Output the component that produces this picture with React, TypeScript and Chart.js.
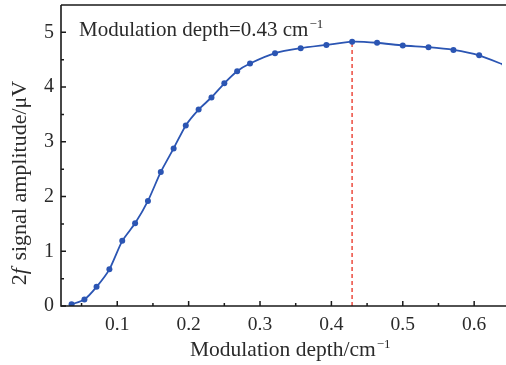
import React, { useEffect, useRef } from "react";
import { Chart, registerables } from "chart.js";

Chart.register(...registerables);

// Data (modulation depth in cm^-1, 2f signal amplitude in µV)
const modulationDepth = [
  0.036, 0.054, 0.071, 0.089, 0.107, 0.125, 0.143, 0.161, 0.179, 0.196,
  0.214, 0.232, 0.25, 0.268, 0.286, 0.321, 0.357, 0.393, 0.429, 0.464,
  0.5, 0.536, 0.571, 0.607, 0.643,
];
const signalAmplitude = [
  0.03, 0.12, 0.35, 0.67, 1.19, 1.51, 1.92, 2.45, 2.88, 3.3,
  3.59, 3.81, 4.07, 4.29, 4.43, 4.62, 4.71, 4.77, 4.83, 4.81,
  4.76, 4.73, 4.68, 4.58, 4.4,
];
const xTicks = [0.1, 0.2, 0.3, 0.4, 0.5, 0.6];
const xMinorTicks = [0.05, 0.15, 0.25, 0.35, 0.45, 0.55, 0.65];
const yTicks = [0, 1, 2, 3, 4, 5];
const yMinorTicks = [0.5, 1.5, 2.5, 3.5, 4.5];
const peakDepth = 0.429;
const peakAmplitude = 4.83;
const annotationMain = "Modulation depth=0.43 cm";
const xTitleMain = "Modulation depth/cm";
const superscript = "\u22121";
const yTitleLead = "2";
const yTitleItalic = "f";
const yTitleRest = " signal amplitude/\u03bcV";

const FONT = "'Liberation Serif', 'Times New Roman', serif";
const TEXT = "#2a2a2a";
const BLUE = "#2b55b3";
const RED = "#ec4b3f";

const decorPlugin = {
  id: "decor",
  afterDraw(chart: any) {
    const ctx = chart.ctx as CanvasRenderingContext2D;
    const { left, top, bottom } = chart.chartArea;
    const xs = chart.scales.x;
    const ys = chart.scales.y;
    ctx.save();
    ctx.strokeStyle = "#1a1a1a";
    ctx.lineWidth = 1.6;
    // axes + top frame
    ctx.beginPath();
    ctx.moveTo(left, top);
    ctx.lineTo(left, bottom);
    ctx.lineTo(chart.width, bottom);
    ctx.moveTo(left, top);
    ctx.lineTo(chart.width, top);
    ctx.stroke();
    // ticks (inward)
    ctx.lineWidth = 1.5;
    ctx.beginPath();
    xTicks.forEach((v) => {
      const p = xs.getPixelForValue(v);
      if (p >= left && p <= chart.width) {
        ctx.moveTo(p, bottom);
        ctx.lineTo(p, bottom - 5);
      }
    });
    xMinorTicks.forEach((v) => {
      const p = xs.getPixelForValue(v);
      if (p >= left && p <= chart.width) {
        ctx.moveTo(p, bottom);
        ctx.lineTo(p, bottom - 3);
      }
    });
    yTicks.forEach((v) => {
      const p = ys.getPixelForValue(v);
      ctx.moveTo(left, p);
      ctx.lineTo(left + 5, p);
    });
    yMinorTicks.forEach((v) => {
      const p = ys.getPixelForValue(v);
      ctx.moveTo(left, p);
      ctx.lineTo(left + 3, p);
    });
    ctx.stroke();

    ctx.fillStyle = TEXT;
    ctx.textBaseline = "alphabetic";
    ctx.textAlign = "left";
    // annotation
    ctx.font = `21px ${FONT}`;
    const ax = left + 18;
    const ay = top + 31;
    ctx.fillText(annotationMain, ax, ay);
    const aw = ctx.measureText(annotationMain).width;
    ctx.font = `13px ${FONT}`;
    ctx.fillText(superscript, ax + aw + 1, ay - 8);

    // x title
    const tx = left + 129;
    const ty = bottom + 50;
    ctx.font = `21.5px ${FONT}`;
    const xw = ctx.measureText(xTitleMain).width;
    ctx.fillText(xTitleMain, tx, ty);
    ctx.font = `13px ${FONT}`;
    ctx.fillText(superscript, tx + xw + 1, ty - 8);

    // y title rotated
    ctx.save();
    ctx.translate(26, 183);
    ctx.rotate(-Math.PI / 2);
    ctx.font = `22px ${FONT}`;
    const w1 = ctx.measureText(yTitleLead).width;
    ctx.font = `italic 22px ${FONT}`;
    const w2 = ctx.measureText(yTitleItalic).width;
    ctx.font = `22px ${FONT}`;
    const w3 = ctx.measureText(yTitleRest).width;
    const tot = w1 + w2 + 2 + w3;
    let px = -tot / 2;
    ctx.fillText(yTitleLead, px, 0);
    px += w1;
    ctx.font = `italic 22px ${FONT}`;
    ctx.fillText(yTitleItalic, px, 0);
    px += w2 + 2;
    ctx.font = `22px ${FONT}`;
    ctx.fillText(yTitleRest, px, 0);
    ctx.restore();

    ctx.restore();
  },
};

export default function App() {
  const ref = useRef<HTMLCanvasElement | null>(null);
  useEffect(() => {
    if (!ref.current) return;
    const chart = new Chart(ref.current, {
      type: "line",
      data: {
        datasets: [
          {
            data: modulationDepth.map((x, i) => ({ x, y: signalAmplitude[i] })),
            borderColor: BLUE,
            backgroundColor: BLUE,
            pointBackgroundColor: BLUE,
            pointBorderColor: BLUE,
            pointRadius: 3,
            pointBorderWidth: 0,
            borderWidth: 1.8,
            tension: 0.2,
            order: 0,
          },
          {
            data: [
              { x: peakDepth, y: 0 },
              { x: peakDepth, y: peakAmplitude },
            ],
            borderColor: RED,
            borderWidth: 1.5,
            borderDash: [4, 3],
            pointRadius: 0,
            order: 1,
          },
        ],
      },
      options: {
        responsive: false,
        animation: false,
        devicePixelRatio: 1,
        layout: { padding: { top: 5, right: 0, left: 0, bottom: 0 } },
        plugins: { legend: { display: false }, tooltip: { enabled: false } },
        scales: {
          x: {
            type: "linear",
            min: 0.0212,
            max: 0.639,
            grid: { display: false, drawTicks: false },
            border: { display: false },
            ticks: {
              font: { family: FONT, size: 19.5 },
              color: TEXT,
              padding: 7,
              maxRotation: 0,
              callback: (v: any) => String(v),
            },
            afterBuildTicks: (s: any) => {
              s.ticks = xTicks.map((v) => ({ value: v }));
            },
            afterFit: (s: any) => {
              s.height = 59;
              s.paddingLeft = 0;
              s.paddingRight = 0;
            },
          },
          y: {
            type: "linear",
            min: 0,
            max: 5.5,
            grid: { display: false, drawTicks: false },
            border: { display: false },
            ticks: {
              font: { family: FONT, size: 20 },
              color: TEXT,
              padding: 7,
              callback: (v: any) => String(v),
            },
            afterBuildTicks: (s: any) => {
              s.ticks = yTicks.map((v) => ({ value: v }));
            },
            afterFit: (s: any) => {
              s.width = 61;
              s.paddingTop = 0;
              s.paddingBottom = 0;
            },
          },
        },
      },
      plugins: [decorPlugin],
    });
    return () => chart.destroy();
  }, []);
  return (
    <div style={{ position: "absolute", left: 0, top: 0, width: 506, height: 365, background: "#fff" }}>
      <canvas ref={ref} width={506} height={365} />
    </div>
  );
}
